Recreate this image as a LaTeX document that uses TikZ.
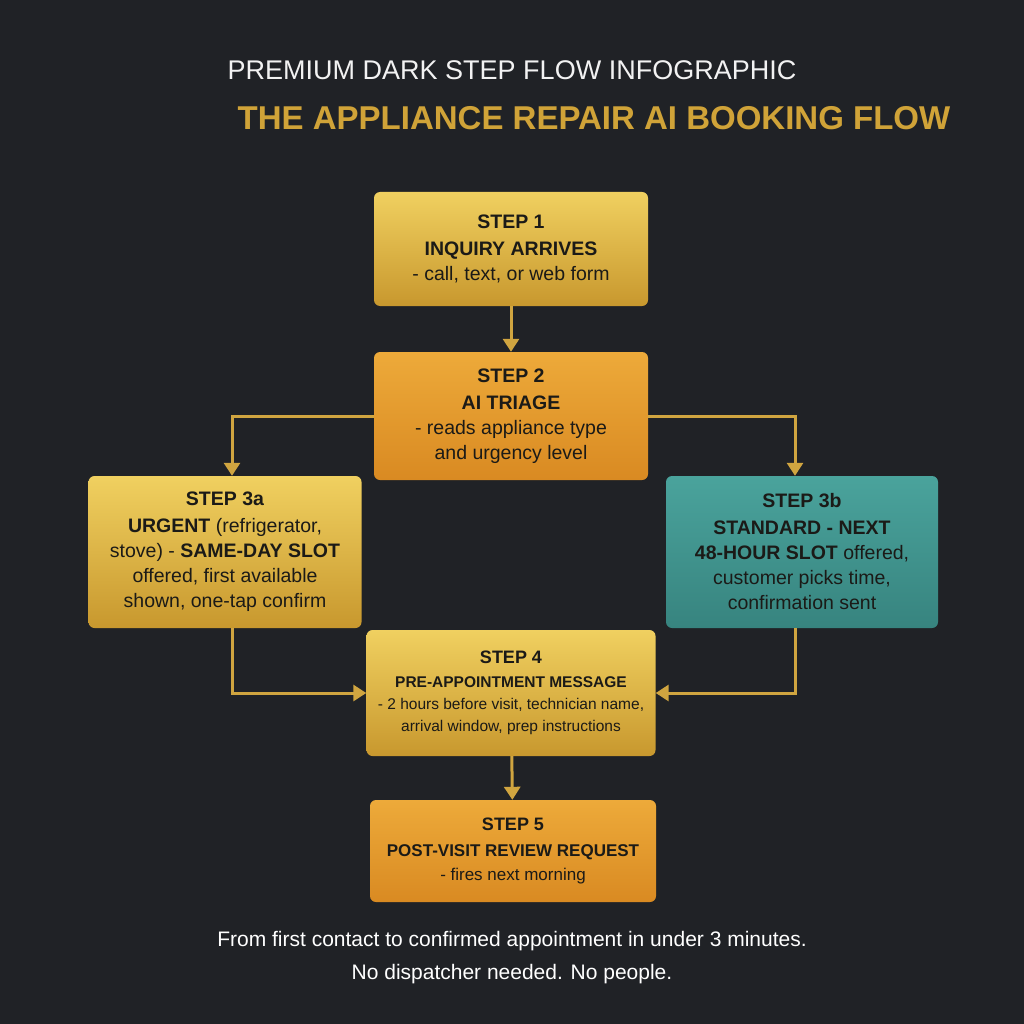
\documentclass[tikz,border=0pt]{standalone}
\usepackage{fontspec}
\setmainfont{Liberation Sans}
\usetikzlibrary{arrows.meta}
\definecolor{bg}{HTML}{202226}
\definecolor{gold1}{HTML}{F0D060}
\definecolor{gold2}{HTML}{C8982E}
\definecolor{or1}{HTML}{EDAA3A}
\definecolor{or2}{HTML}{D98A22}
\definecolor{teal1}{HTML}{4AA39C}
\definecolor{teal2}{HTML}{37847F}
\definecolor{ln}{HTML}{D0A540}
\definecolor{tx}{HTML}{1B1A17}
\begin{document}
\begin{tikzpicture}[x=1pt,y=-1pt,
 box/.style={rounded corners=6pt,draw=none,text=tx,align=center,inner sep=0pt,font=\fontsize{19.5}{25}\selectfont},
 gold/.style={box,top color=gold1,bottom color=gold2},
 orange/.style={box,top color=or1,bottom color=or2},
 teal/.style={box,top color=teal1,bottom color=teal2},
 con/.style={draw=ln,line width=3pt,-{Triangle[length=13pt,width=16pt]}}]
\fill[bg] (0,0) rectangle (1024,1024);
\node (t1) at (512,70) {\color{white!90!gray}\fontsize{27}{30}\selectfont PREMIUM DARK STEP FLOW INFOGRAPHIC};
\node (t2) at (594,118) {\color{gold2!80!gold1}\fontsize{33}{40}\selectfont\bfseries THE APPLIANCE REPAIR AI BOOKING FLOW};
\node[gold,minimum width=274pt,minimum height=114pt] (s1) at (511,249) {\textbf{STEP 1}\\[2pt]\textbf{INQUIRY ARRIVES}\\- call, text, or web form};
\node[orange,minimum width=274pt,minimum height=128pt] (s2) at (511,416) {\textbf{STEP 2}\\[2pt]\textbf{AI TRIAGE}\\- reads appliance type\\and urgency level};
\node[gold,minimum width=273pt,minimum height=152pt] (s3a) at (225,552) {\textbf{STEP 3a}\\[2pt]\textbf{URGENT} (refrigerator,\\stove) - \textbf{SAME-DAY SLOT}\\offered, first available\\shown, one-tap confirm};
\node[teal,minimum width=272pt,minimum height=152pt] (s3b) at (802,552) {\textbf{STEP 3b}\\[2pt]\textbf{STANDARD - NEXT}\\\textbf{48-HOUR SLOT} offered,\\customer picks time,\\confirmation sent};
\node[gold,minimum width=289pt,minimum height=126pt,font=\fontsize{15.5}{22}\selectfont] (s4) at (511,693) {{\fontsize{18}{22}\selectfont\textbf{STEP 4}}\\[2pt]\textbf{PRE-APPOINTMENT MESSAGE}\\- 2 hours before visit, technician name,\\arrival window, prep instructions};
\node[orange,minimum width=286pt,minimum height=102pt,font=\fontsize{17}{24}\selectfont] (s5) at (513,851) {{\fontsize{18}{22}\selectfont\textbf{STEP 5}}\\[2pt]\textbf{POST-VISIT REVIEW REQUEST}\\- fires next morning};
\node[text=white,align=center,font=\fontsize{21}{33}\selectfont] (f) at (512,958) {From first contact to confirmed appointment in under 3 minutes.\\No dispatcher needed. No people.};
\draw[con] (s1) -- (s2);
\draw[con] (s2.west) -| (s3a.north -| 232,0);
\draw[con] (s2.east) -| (s3b.north -| 795,0);
\draw[con] (s3a.south -| 232,0) |- (s4.west);
\draw[con] (s3b.south -| 795,0) |- (s4.east);
\draw[con] (s4) -- (s5);
\end{tikzpicture}
\end{document}
